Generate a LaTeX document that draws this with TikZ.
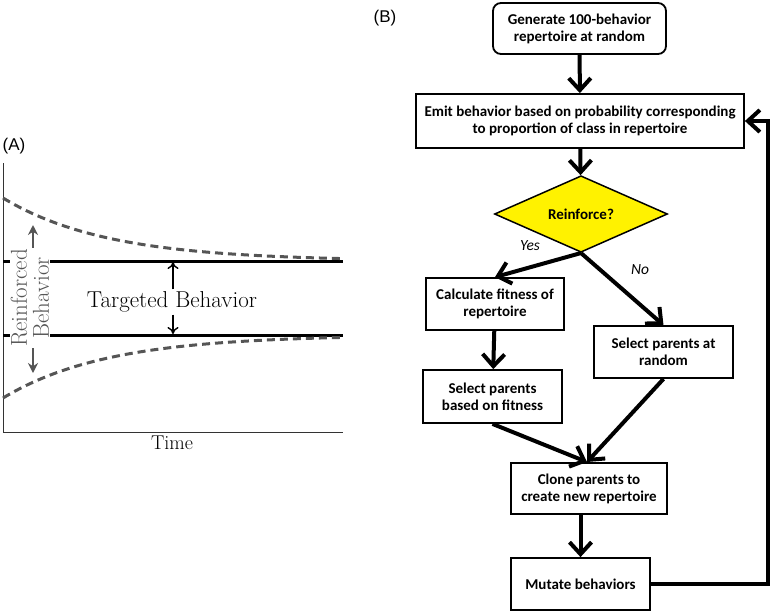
\documentclass[tikz,border=0pt]{standalone}
\usepackage{fontspec}
\newfontfamily\calfont{Carlito}
\newfontfamily\arialfont{Liberation Sans}
\usetikzlibrary{arrows.meta,shapes.geometric,calc}
\definecolor{dgray}{RGB}{85,85,85}
\definecolor{dyellow}{RGB}{255,242,0}
\begin{document}
\begin{tikzpicture}[x=1pt,y=-1pt,
  box/.style={draw, line width=1.8pt, fill=white, align=center,
    font=\calfont\bfseries\fontsize{15}{17}\selectfont, inner sep=0pt},
  flow/.style={line width=4pt, -{Straight Barb[length=12pt,width=22pt]}},
  yn/.style={font=\calfont\itshape\fontsize{15.5}{17}\selectfont},
  panel/.style={font=\arialfont\fontsize{17}{20}\selectfont, inner sep=0pt},
  lm/.style={font=\fontsize{23}{22}\selectfont},
  dashcurve/.style={dgray, line width=3pt, dash pattern=on 8pt off 5pt},
  level/.style={black, line width=3pt}
]
\useasboundingbox (0,0) rectangle (774,614);

% ---------- Panel A ----------
\node[panel] (pa) at (14,146) {(A)};
\draw[line width=1pt, black!80] (3,163) -- (3,432) -- (343,432);
\draw[level] (3,261) -- (343,261);
\draw[level] (3,335) -- (343,335);
\draw[dashcurve] plot[domain=3:343, samples=80, smooth] (\x,{261-63*exp(-0.0096*(\x-3))});
\draw[dashcurve] plot[domain=3:343, samples=80, smooth] (\x,{335+63*exp(-0.0096*(\x-3))});

\coordinate (rtop) at (33,225);
\coordinate (rbot) at (33,373);
\draw[dgray, line width=1.6pt, {Stealth[length=10pt,width=10pt]}-{Stealth[length=10pt,width=10pt]}] (rtop) -- (rbot);
\node[lm, rotate=90, fill=white, text=dgray, align=center, inner sep=1pt] (rb) at (30,298) {Reinforced\\Behavior};

\node[lm, inner sep=2pt] (tb) at (172,302) {Targeted Behavior};
\coordinate (tu) at (173,262);
\coordinate (td) at (173,334);
\draw[line width=1.4pt, -{To[length=7pt,width=11pt]}] (tb.north -| tu) -- (tu);
\draw[line width=1.4pt, -{To[length=7pt,width=11pt]}] (tb.south -| td) -- (td);

\node[font=\fontsize{20}{22}\selectfont] (time) at (172,443) {Time};

% ---------- Panel B ----------
\node[panel] (pb) at (385,18) {(B)};

\node[box, rounded corners=8pt, minimum width=173pt, minimum height=51pt] (b1) at (579.5,28.5) {Generate 100-behavior\\repertoire at random};
\node[box, minimum width=328pt, minimum height=54pt] (b2) at (580,121) {Emit behavior based on probability corresponding\\to proportion of class in repertoire};
\node[box, diamond, fill=dyellow, line width=1.5pt, minimum width=173pt, minimum height=52pt] (dia) at (581,214) {Reinforce?};
\node[box, minimum width=138pt, minimum height=52pt] (b3) at (495,304) {Calculate fitness of\\repertoire};
\node[box, minimum width=139pt, minimum height=52pt] (b4) at (663.5,352) {Select parents at\\random};
\node[box, minimum width=139pt, minimum height=53pt] (b5) at (492.5,396.5) {Select parents\\based on fitness};
\node[box, minimum width=156pt, minimum height=51pt] (b6) at (589,488.5) {Clone parents to\\create new repertoire};
\node[box, minimum width=139pt, minimum height=52pt] (b7) at (580.5,584) {Mutate behaviors};

\node[yn] (yes) at (530,246) {Yes};
\node[yn] (no) at (640,270) {No};

\draw[flow] (b1) -- (b2);
\draw[flow] (b2) -- (dia);
\draw[flow] (dia.south) -- (b3.north);
\draw[flow] (dia.south) -- (b4.north);
\draw[flow] (b3) -- (b5);
\coordinate (merge) at (587,462);
\draw[flow] (b5.south) -- (merge);
\draw[flow] (b4.south) -- (merge);
\draw[flow] (b7.north |- b6.south) -- (b7.north);
\coordinate (loop) at (768,121);
\draw[flow] (b7.east) -| (loop) -- (b2.east);
\end{tikzpicture}
\end{document}
